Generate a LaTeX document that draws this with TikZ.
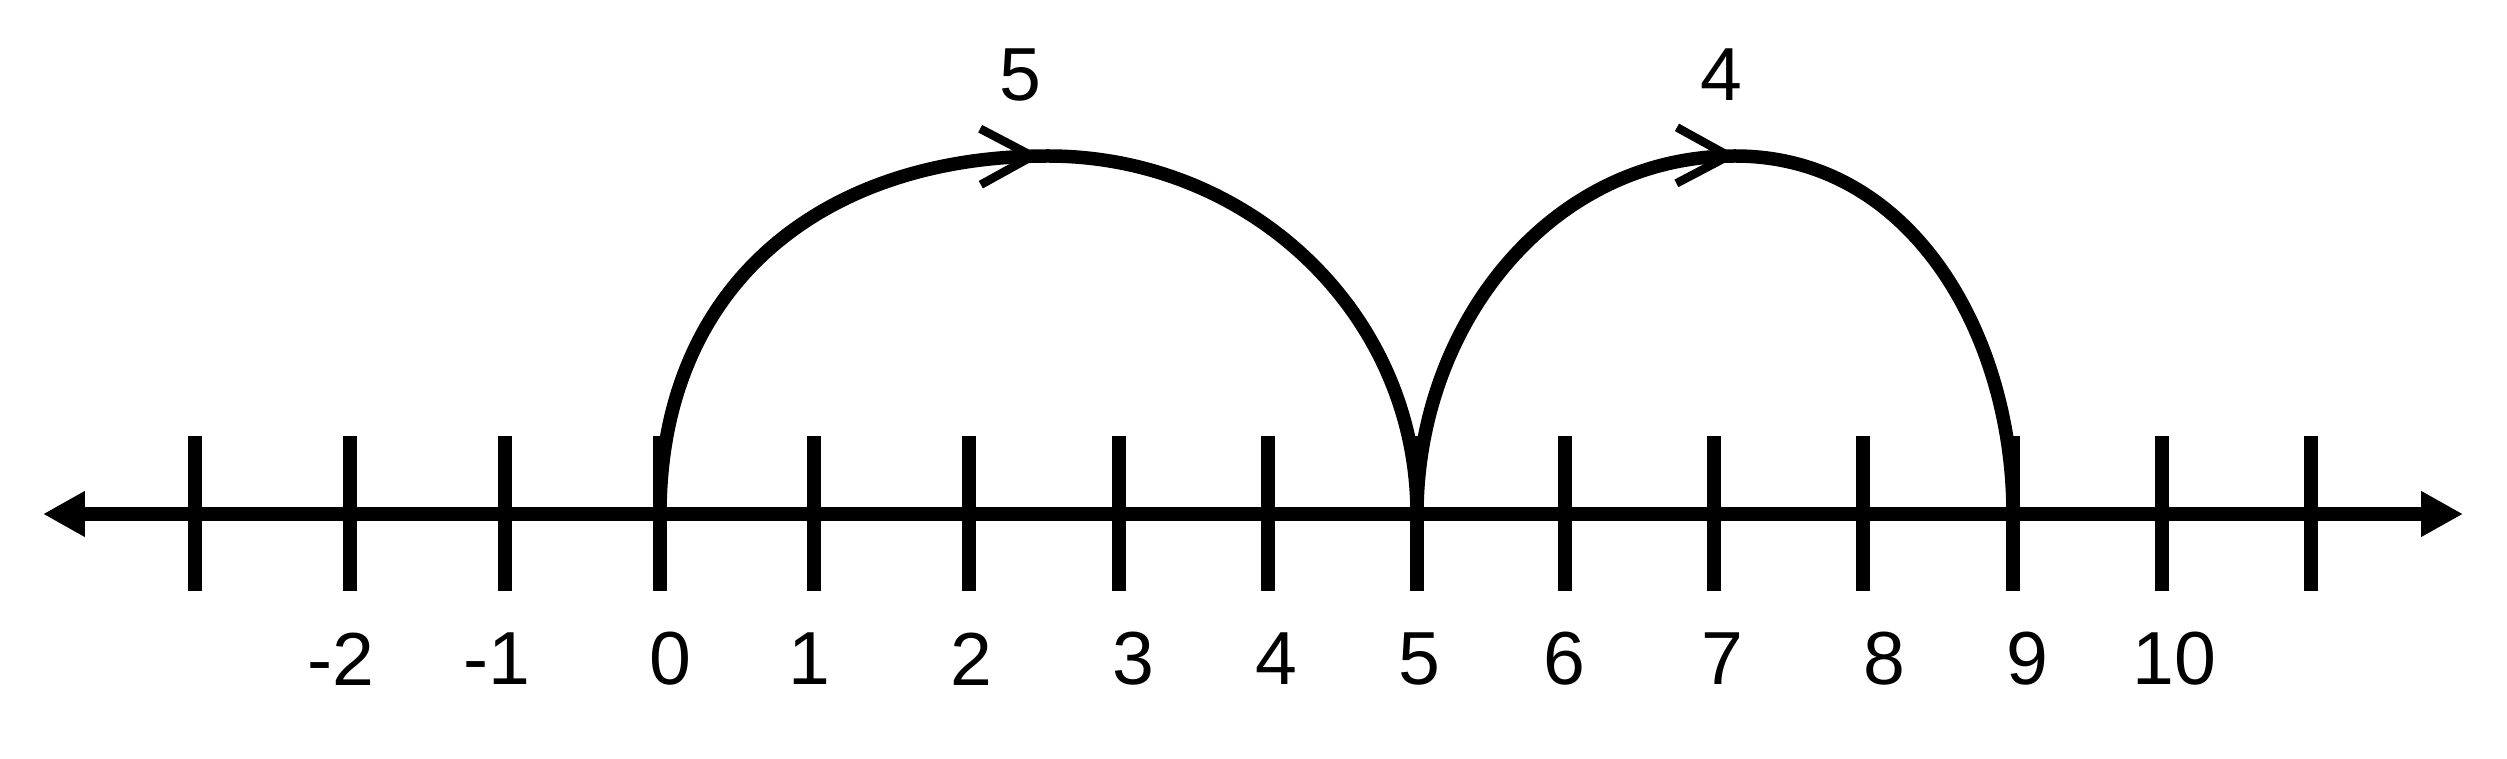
\documentclass[tikz,border=0pt]{standalone}
\usepackage{fontspec}
\setmainfont{Liberation Sans}
\usetikzlibrary{arrows.meta}
\usetikzlibrary{decorations.markings}

\begin{document}
\begin{tikzpicture}[>={Triangle[length=4.2mm,width=4.3mm]},
		axis/.style={line width=1.4mm},
		tick/.style={line width=1.4mm},
		hop/.style={line width=1.35mm,postaction={decorate},
			decoration={markings,mark=at position #1 with {\arrow{Straight Barb[length=5.2mm,width=5.6mm,line width=0.85mm]}}}},
		num/.style={inner sep=0pt,font=\fontsize{21.4pt}{25pt}\selectfont}]
		\useasboundingbox (0,0) rectangle (25.07,7.59);
		
		\coordinate (lend) at (0.43,2.45);
		\coordinate (rend) at (24.63,2.45);
		\draw[axis,<->] (lend) -- (rend);
		
		% ticks
		\foreach \x [count=\i] in {1.95,3.50,5.05,6.60,8.14,9.69,11.19,12.68,14.17,15.65,17.14,18.63,20.13,21.62,23.11}
		{
			\coordinate (t\i) at (\x,2.45);
			\draw[tick] ([yshift=7.75mm]t\i) -- ([yshift=-7.75mm]t\i);
		}
		
		% labels
		\foreach \x/\lab [count=\i] in {3.41/-2,4.97/-1,6.70/0,8.09/1,9.71/2,11.33/3,12.76/4,14.19/5,15.64/6,17.22/7,18.84/8,20.27/9,21.74/10}
			\node[num] (l\i) at (\x,1.00) {\lab};
		
		\coordinate (top1) at (10.48,6.03);
		\coordinate (top2) at (17.35,6.03);
		\draw[hop=0.505] (t4) to[out=90,in=180,looseness=1.1] (top1) to[out=0,in=90] (t9);
		\draw[hop=0.516] (t9) to[out=90,in=180] (top2) to[out=0,in=90] (t13);
		
		\node[num] (j1) at (10.20,6.84) {5};
		\node[num] (j2) at (17.21,6.84) {4};
\end{tikzpicture}
\end{document}
